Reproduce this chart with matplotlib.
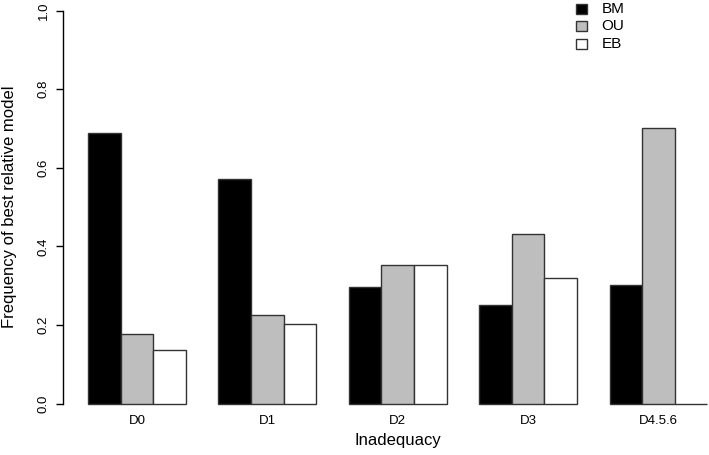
import matplotlib
matplotlib.use("Agg")
import matplotlib.pyplot as plt
import numpy as np
from matplotlib.patches import Rectangle

plt.rcParams["font.family"] = ["Liberation Sans", "DejaVu Sans"]

categories = ["D0", "D1", "D2", "D3", "D4.5.6"]
models = ["BM", "OU", "EB"]
bm = [0.688, 0.573, 0.298, 0.251, 0.301]
ou = [0.177, 0.226, 0.352, 0.432, 0.701]
eb = [0.137, 0.204, 0.352, 0.319, 0.0]
colors = ["black", "#bebebe", "white"]

W, H = 709, 455
fig = plt.figure(figsize=(W / 100, H / 100), dpi=100)

# R barplot(beside=TRUE) layout: bar width 1, group gap 1, first bar at 1
px_unit = 32.6
x0_px = 88.0
left_px, bottom_px = 62.7, 420.0
y0_px, y1_px = 403.7, 10.7
xlim = (1 - (x0_px - left_px) / px_unit, 1 + (W - x0_px) / px_unit)
per = y0_px - y1_px
ylim = (-(bottom_px - y0_px) / per, y0_px / per)

ax = fig.add_axes([left_px / W, (H - bottom_px) / H, 1 - left_px / W, bottom_px / H])
ax.set_xlim(*xlim)
ax.set_ylim(*ylim)

series = [bm, ou, eb]
for g in range(len(categories)):
    for i, vals in enumerate(series):
        x = 1 + 4 * g + i
        ax.add_patch(Rectangle((x, 0), 1, vals[g], facecolor=colors[i],
                               edgecolor="#333333", linewidth=1.0))

for s in ["top", "right", "bottom"]:
    ax.spines[s].set_visible(False)
ax.spines["left"].set_bounds(0, 1)
ax.spines["left"].set_linewidth(1.0)

ax.set_yticks(np.arange(0, 1.01, 0.2))
ax.set_yticklabels([f"{v:.1f}" for v in np.arange(0, 1.01, 0.2)], rotation=90,
                   va="center", fontsize=9.5)
ax.tick_params(axis="y", length=7.5 * 0.72, width=1.0, pad=4)
ax.set_xticks([])

# group labels under bars (R puts them inside the margin, just below the baseline)
lab_y = (y0_px - 421) / per
for g, c in enumerate(categories):
    ax.text(2.5 + 4 * g, lab_y, c, ha="center", va="center", fontsize=9.5, clip_on=False)

fig.text(398 / W, 1 - 441 / H, "Inadequacy", ha="center", va="center", fontsize=12)
fig.text(10 / W, 1 - 207 / H, "Frequency of best relative model", ha="center",
         va="center", rotation=90, fontsize=12)

# legend
for i, m in enumerate(models):
    yc = [8.7, 26.3, 44.3][i]
    fig.patches.append(Rectangle((576 / W, 1 - (yc + 5) / H), 10.5 / W, 10 / H,
                                 transform=fig.transFigure, facecolor=colors[i],
                                 edgecolor="#333333", linewidth=1.0))
    fig.text(601.5 / W, 1 - yc / H, m, ha="left", va="center", fontsize=11)

fig.savefig("out.png", dpi=100)
